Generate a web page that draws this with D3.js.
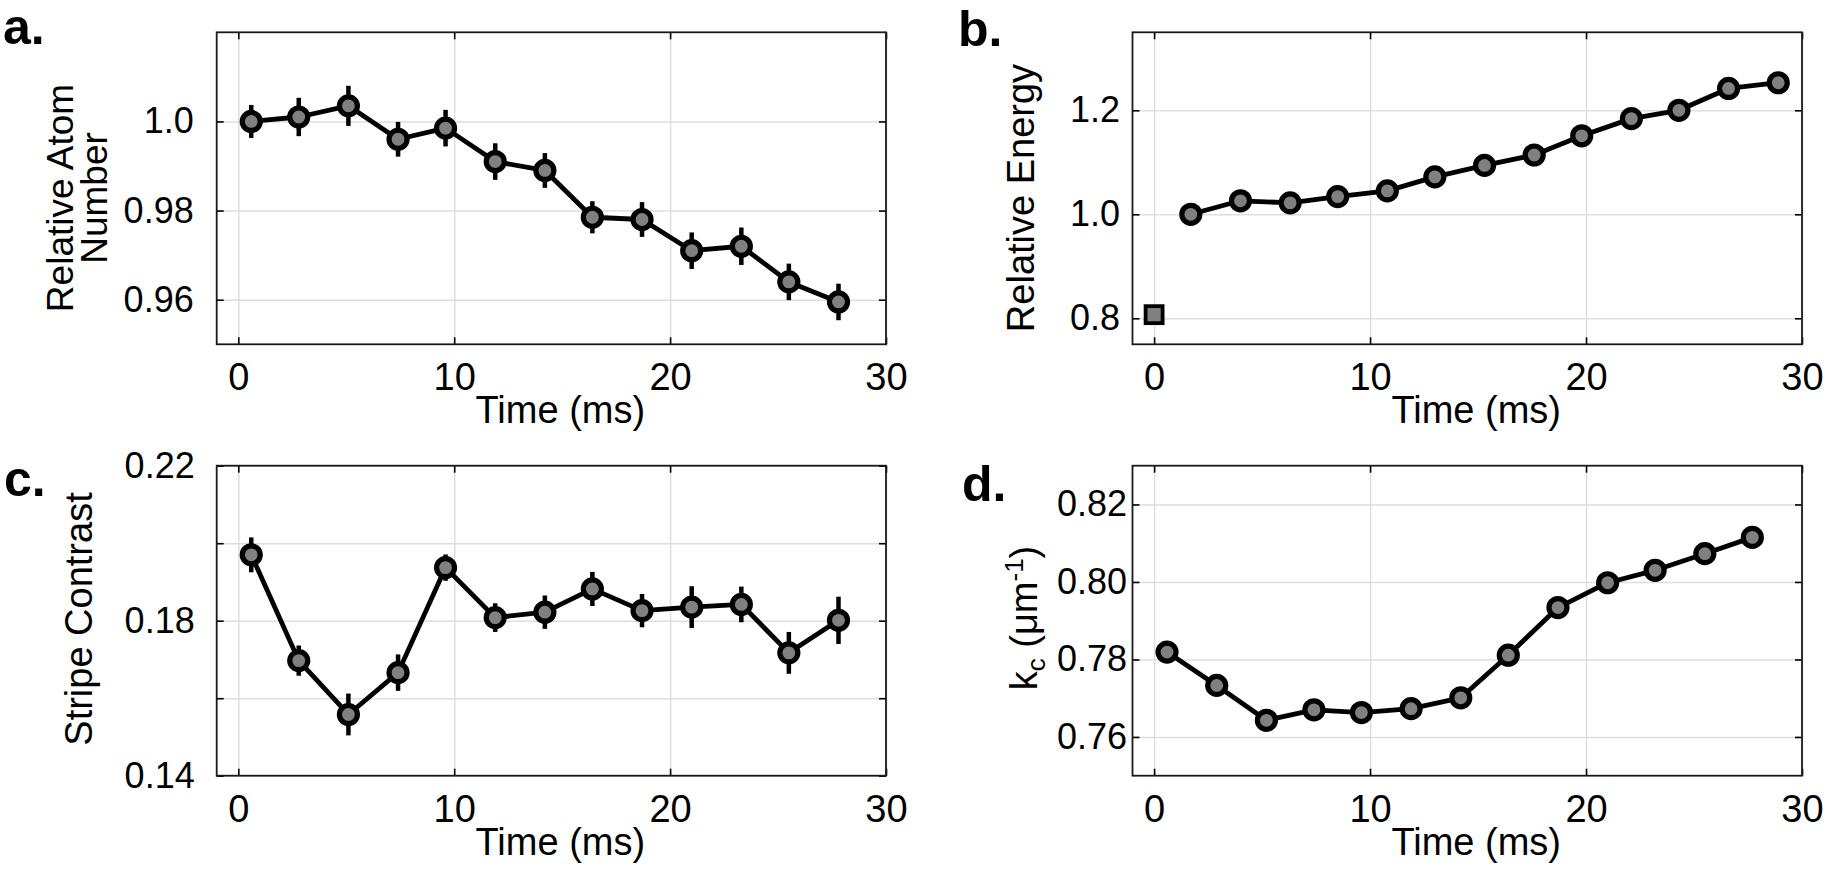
<!DOCTYPE html>
<html>
<head>
<meta charset="utf-8">
<script src="https://cdn.jsdelivr.net/npm/d3@7"></script>
<style>
  body { margin: 0; background: #fff; }
  svg { display: block; font-family: "Liberation Sans", Arial, Helvetica, sans-serif; }
</style>
</head>
<body>
<svg id="fig" width="1825" height="872"></svg>
<script>
// ---- data ----
// a. relative atom number
const timeA = [0.6, 2.8, 5.1, 7.4, 9.6, 11.9, 14.2, 16.4, 18.7, 21.0, 23.3, 25.5, 27.8];
const atomNumber = [1.000, 1.001, 1.0035, 0.996, 0.9985, 0.991, 0.989, 0.9785, 0.978, 0.971, 0.972, 0.964, 0.9595];
const atomNumberErr = [0.0037, 0.0043, 0.0045, 0.0039, 0.0041, 0.0041, 0.0039, 0.0036, 0.0039, 0.0041, 0.0042, 0.0041, 0.0041];

// b. relative energy (square = t0 reference point)
const timeB = [1.7, 4.0, 6.3, 8.5, 10.8, 13.0, 15.3, 17.6, 19.8, 22.1, 24.3, 26.6, 28.9];
const energy = [1.000, 1.026, 1.022, 1.034, 1.045, 1.072, 1.094, 1.114, 1.151, 1.184, 1.200, 1.242, 1.253];
const timeB0 = [0];
const energyB0 = [0.807];

// c. stripe contrast
const timeC = [0.6, 2.8, 5.1, 7.4, 9.6, 11.9, 14.2, 16.4, 18.7, 21.0, 23.3, 25.5, 27.8];
const stripeContrast = [0.197, 0.1697, 0.1558, 0.1666, 0.1937, 0.1808, 0.1822, 0.1882, 0.1826, 0.1835, 0.1842, 0.1717, 0.1801];
const stripeErr = [0.0045, 0.0039, 0.0054, 0.0047, 0.0034, 0.0037, 0.0043, 0.0044, 0.0043, 0.0054, 0.0046, 0.0054, 0.0061];

// d. k_c
const timeD = [0.6, 2.9, 5.2, 7.4, 9.6, 11.9, 14.2, 16.4, 18.7, 21.0, 23.2, 25.5, 27.7];
const kc = [0.7819, 0.7733, 0.7643, 0.7670, 0.7663, 0.7673, 0.7701, 0.7811, 0.7934, 0.7998, 0.8030, 0.8073, 0.8115];

// ticks
const xDomain = [-1, 30];
const xTicks = [0, 10, 20, 30];
const ticksA = [0.96, 0.98, 1.0], labelsA = ['0.96', '0.98', '1.0'];
const ticksB = [0.8, 1.0, 1.2], labelsB = ['0.8', '1.0', '1.2'];
const ticksC = [0.14, 0.16, 0.18, 0.20, 0.22], labelsC = ['0.14', '', '0.18', '', '0.22'];
const ticksD = [0.76, 0.78, 0.80, 0.82], labelsD = ['0.76', '0.78', '0.80', '0.82'];

const svg = d3.select('#fig');
const GRID = '#dedede', MARK = '#808080';

function drawPanel(p) {
  const g = svg.append('g');
  const x = d3.scaleLinear().domain(xDomain).range([p.left, p.right]);
  const y = d3.scaleLinear().domain(p.yDomain).range([p.bottom, p.top]);
  const w = p.right - p.left, h = p.bottom - p.top;
  const clean = s => s.call(a => a.select('.domain').remove()).attr('font-family', null);

  // grid
  g.append('g').attr('transform', `translate(0,${p.bottom})`)
    .call(d3.axisBottom(x).tickValues(xTicks).tickSize(-h).tickFormat(''))
    .call(clean).selectAll('line').attr('stroke', GRID).attr('stroke-width', 1.5);
  g.append('g').attr('transform', `translate(${p.left},0)`)
    .call(d3.axisLeft(y).tickValues(p.yTicks).tickSize(-w).tickFormat(''))
    .call(clean).selectAll('line').attr('stroke', GRID).attr('stroke-width', 1.5);

  // ticks pointing inward on all four sides
  const xb = g.append('g').attr('transform', `translate(0,${p.bottom})`)
    .call(d3.axisBottom(x).tickValues(xTicks).tickSizeInner(-7).tickSizeOuter(0).tickPadding(19))
    .call(clean).attr('font-size', 38);
  xb.selectAll('text').attr('fill', '#000');
  g.append('g').attr('transform', `translate(0,${p.top})`)
    .call(d3.axisTop(x).tickValues(xTicks).tickSizeInner(-7).tickSizeOuter(0).tickFormat(''))
    .call(clean);
  const yl = g.append('g').attr('transform', `translate(${p.left},0)`)
    .call(d3.axisLeft(y).tickValues(p.yTicks).tickSizeInner(-7).tickSizeOuter(0)
      .tickPadding(p.yPad).tickFormat((d, i) => p.yLabels[i]))
    .call(clean).attr('font-size', 36);
  yl.selectAll('text').attr('fill', '#000');
  g.append('g').attr('transform', `translate(${p.right},0)`)
    .call(d3.axisRight(y).tickValues(p.yTicks).tickSizeInner(-7).tickSizeOuter(0).tickFormat(''))
    .call(clean);
  g.selectAll('.tick line').filter(function () { return d3.select(this).attr('stroke') !== GRID; })
    .attr('stroke-width', 1.6);

  // frame
  g.append('rect').attr('x', p.left).attr('y', p.top).attr('width', w).attr('height', h)
    .attr('fill', 'none').attr('stroke', '#1a1a1a').attr('stroke-width', 1.8);

  // x label
  g.append('text').attr('x', (p.left + p.right) / 2 + 9).attr('y', p.bottom + 79)
    .attr('text-anchor', 'middle').attr('font-size', 38).text('Time (ms)');

  // panel letter
  g.append('text').attr('x', p.letterX).attr('y', p.letterY)
    .attr('font-size', 50).attr('font-weight', 'bold').text(p.letter);

  return { g, x, y };
}

function drawSeries(panel, t, v, err) {
  const { g, x, y } = panel;
  const pts = t.map((tt, i) => ({ t: tt, v: v[i], e: err ? err[i] : 0 }));
  g.append('path').datum(pts)
    .attr('d', d3.line().x(d => x(d.t)).y(d => y(d.v)))
    .attr('fill', 'none').attr('stroke', '#000').attr('stroke-width', 4.8)
    .attr('stroke-linejoin', 'round');
  if (err) {
    g.selectAll(null).data(pts).enter().append('line')
      .attr('x1', d => x(d.t)).attr('x2', d => x(d.t))
      .attr('y1', d => y(d.v - d.e)).attr('y2', d => y(d.v + d.e))
      .attr('stroke', '#000').attr('stroke-width', 4.5);
  }
  g.selectAll(null).data(pts).enter().append('circle')
    .attr('cx', d => x(d.t)).attr('cy', d => y(d.v)).attr('r', 9)
    .attr('fill', MARK).attr('stroke', '#000').attr('stroke-width', 5.2);
}

function yLabel(x, y, size) {
  return svg.append('text').attr('transform', `translate(${x},${y}) rotate(-90)`)
    .attr('text-anchor', 'middle').attr('font-size', size);
}

// ---- panel a ----
const pa = drawPanel({ left: 216.7, right: 886, top: 32.3, bottom: 344.3,
  yDomain: [0.95, 1.02], yTicks: ticksA, yLabels: labelsA, yPad: 23,
  letter: 'a.', letterX: 3, letterY: 44 });
drawSeries(pa, timeA, atomNumber, atomNumberErr);
yLabel(73, 198, 37).text('Relative Atom');
yLabel(107, 198, 37).text('Number');

// ---- panel b ----
const pb = drawPanel({ left: 1132.5, right: 1802, top: 32.3, bottom: 344.3,
  yDomain: [0.75, 1.35], yTicks: ticksB, yLabels: labelsB, yPad: 12.5,
  letter: 'b.', letterX: 958, letterY: 46 });
drawSeries(pb, timeB, energy, null);
pb.g.selectAll(null).data(timeB0).enter().append('rect')
  .attr('x', (d) => pb.x(d) - 8.5).attr('y', (d, i) => pb.y(energyB0[i]) - 8.5)
  .attr('width', 17).attr('height', 17)
  .attr('fill', MARK).attr('stroke', '#000').attr('stroke-width', 3.8);
yLabel(1034, 198, 38).text('Relative Energy');

// ---- panel c ----
const pc = drawPanel({ left: 216.7, right: 886, top: 465.7, bottom: 775.7,
  yDomain: [0.14, 0.22], yTicks: ticksC, yLabels: labelsC, yPad: 22,
  letter: 'c.', letterX: 4, letterY: 496 });
drawSeries(pc, timeC, stripeContrast, stripeErr);
yLabel(92, 619, 38).text('Stripe Contrast');

// ---- panel d ----
const pd = drawPanel({ left: 1132.5, right: 1802, top: 465.7, bottom: 775.7,
  yDomain: [0.75, 0.83], yTicks: ticksD, yLabels: labelsD, yPad: 5.5,
  letter: 'd.', letterX: 962, letterY: 501 });
drawSeries(pd, timeD, kc, null);
const kl = yLabel(1037, 618, 38);
kl.append('tspan').text('k');
kl.append('tspan').attr('font-size', 26).attr('dy', 8).text('c');
kl.append('tspan').attr('dy', -8).text(' (μm');
kl.append('tspan').attr('font-size', 26).attr('dy', -14).text('-1');
kl.append('tspan').attr('dy', 14).text(')');
</script>
</body>
</html>
